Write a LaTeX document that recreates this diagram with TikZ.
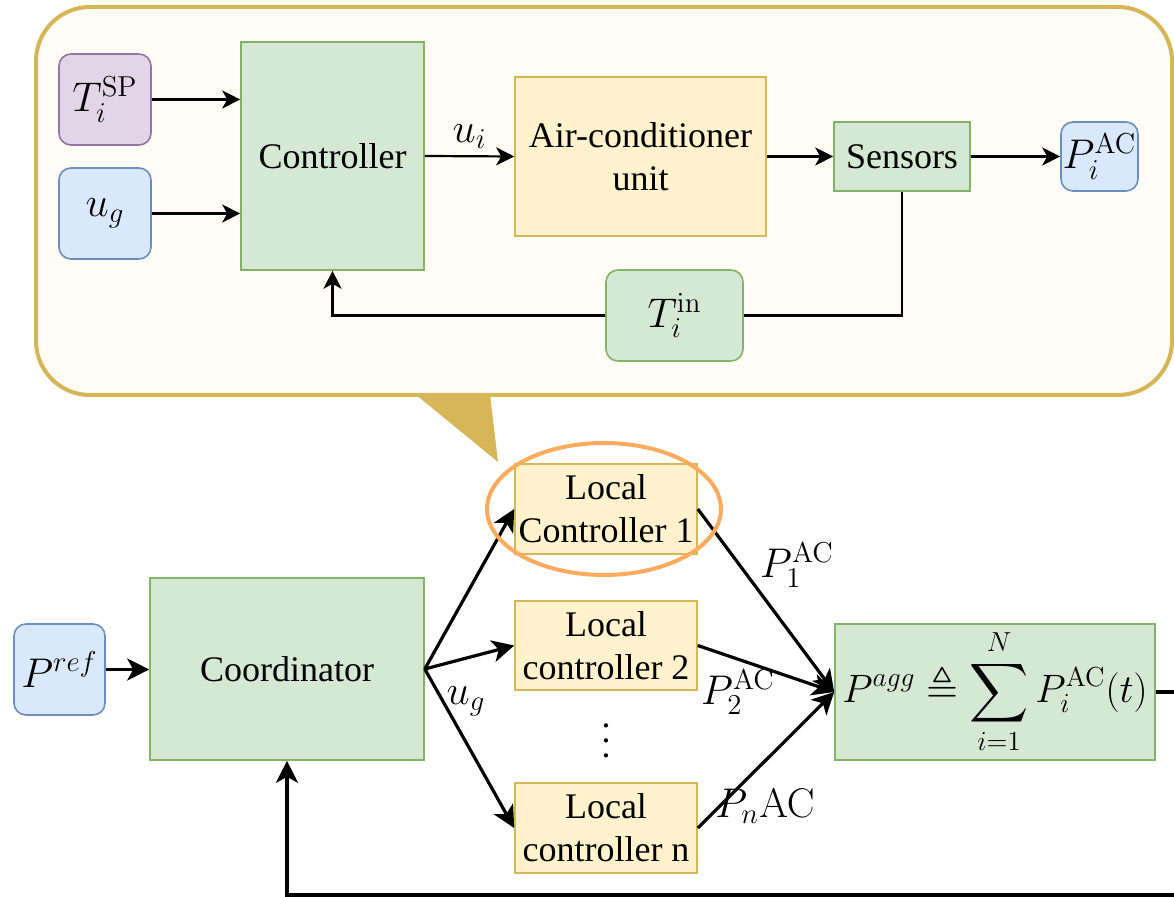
\documentclass[tikz,border=0pt]{standalone}
\usepackage[no-math]{fontspec}
\setmainfont{Liberation Serif}
\usepackage{amsmath,amssymb}
\usetikzlibrary{arrows.meta,shapes.geometric}

\definecolor{grnfill}{HTML}{D5E8D4}
\definecolor{grnline}{HTML}{82B366}
\definecolor{ylwfill}{HTML}{FFF2CC}
\definecolor{ylwline}{HTML}{D6B656}
\definecolor{bluefill}{HTML}{DAE8FC}
\definecolor{blueline}{HTML}{6C8EBF}
\definecolor{purfill}{HTML}{E1D5E7}
\definecolor{purline}{HTML}{9673A6}
\definecolor{cream}{HTML}{FFFCF5}
\definecolor{callgold}{HTML}{D6B656}
\definecolor{hilite}{HTML}{FFAB5E}

\begin{document}
\begin{tikzpicture}[x=0.5pt,y=-0.5pt,
  font=\fontsize{18}{21.5}\selectfont,
  mth/.style={font=\fontsize{21.5}{25}\selectfont},
  blk/.style={draw, inner sep=0pt, line width=0.8pt, align=center},
  grn/.style={blk, draw=grnline, fill=grnfill},
  ylw/.style={blk, draw=ylwline, fill=ylwfill},
  blu/.style={blk, draw=blueline, fill=bluefill, rounded corners=6pt},
  pur/.style={blk, draw=purline, fill=purfill, rounded corners=6pt},
  thin/.style={line width=1.1pt},
  thinarr/.style={thin, -{Stealth[length=9pt,width=9pt,inset=2.5pt]}},
  thick/.style={line width=1.6pt},
  thickarr/.style={thick, -{Stealth[length=11pt,width=11pt,inset=3pt]}},
]
\useasboundingbox (0,0) rectangle (1174,897);

% ---- zoomed-in view of a local controller ----
\node[draw=callgold, fill=cream, line width=2pt, rounded corners=27pt,
      minimum width=568pt, minimum height=194pt, inner sep=0pt] (zoomview) at (604,201) {};
\coordinate (tl) at (415,394);
\coordinate (tr) at (490,394);
\coordinate (tip) at (498,462);
\fill[callgold] (tl) -- (tr) -- (tip) -- cycle;

\node[pur, mth, minimum width=46pt, minimum height=45.5pt] (tsp) at (105,99.5) {$T_i^{\mathrm{SP}}$};
\node[blu, mth, minimum width=46pt, minimum height=45.5pt] (ugin) at (105,213.5) {$u_g$};
\node[grn, minimum width=91.5pt, minimum height=114pt] (ctrl) at (332.5,156) {Controller};
\node[ylw, minimum width=125.5pt, minimum height=79.5pt] (acu) at (640.5,156.5) {Air-conditioner\\unit};
\node[grn, minimum width=68pt, minimum height=34.5pt] (sens) at (902,156.5) {Sensors};
\node[blu, mth, minimum width=38.5pt, minimum height=34.5pt] (pac) at (1099.5,156.5) {$P_i^{\mathrm{AC}}$};
\node[grn, mth, rounded corners=6pt, minimum width=68.5pt, minimum height=45.5pt] (tin) at (674.5,315.5) {$T_i^{\mathrm{in}}$};

\draw[thinarr] (tsp.east) -- (tsp.east -| ctrl.west);
\draw[thinarr] (ugin.east) -- (ugin.east -| ctrl.west);
\draw[thinarr] (ctrl.east) -- node[mth, above=0pt] (uilab) {$u_i$} (acu.west);
\draw[thinarr] (acu.east) -- (sens.west);
\draw[thinarr] (sens.east) -- (pac.west);
\draw[thin] (sens.south) |- (tin.east);
\draw[thinarr] (tin.west) -| (ctrl.south);

% ---- aggregate control loop ----
\node[blu, mth, minimum width=45.5pt, minimum height=45.5pt] (pref) at (59.5,669.5) {$P^{ref}$};
\node[grn, minimum width=137pt, minimum height=91pt] (coord) at (287,669) {Coordinator};
\node[ylw, minimum width=91pt, minimum height=45pt] (lc1) at (606,509) {Local\\Controller 1};
\node[ylw, minimum width=91pt, minimum height=44.5pt] (lc2) at (606,645.5) {Local\\controller 2};
\node[ylw, minimum width=91pt, minimum height=45pt] (lcn) at (606,828) {Local\\controller n};
\node[inner sep=0pt] (dots) at (606,741)
  {\vbox{\baselineskip=7.5pt\lineskiplimit=0pt\hbox{.}\hbox{.}\hbox{.}}};
\node[grn, mth, minimum width=160pt, minimum height=68pt] (agg) at (995,692)
  {\scalebox{0.955}{$\displaystyle P^{agg}\triangleq\sum_{i=1}^{N}P_i^{\mathrm{AC}}(t)$}};

\draw[thickarr] (pref.east) -- (pref.east -| coord.west);
\draw[thickarr] (coord.east) -- (lc1.west);
\draw[thickarr] (coord.east) -- (lc2.west);
\draw[thickarr] (coord.east) -- (lcn.west);
\node[mth] (uglab) at (466,701) {$u_g$};

\draw[thickarr] (lc1.east) -- (agg.west);
\draw[thickarr] (lc2.east) -- (agg.west);
\draw[thickarr] (lcn.east) -- (agg.west);
\node[mth] (p1lab) at (797,565) {$P_1^{\mathrm{AC}}$};
\node[mth] (p2lab) at (738,692) {$P_2^{\mathrm{AC}}$};
\node[mth] (pnlab) at (765,806) {$P_n\mathrm{AC}$};

\coordinate (outr) at (1182,692);
\coordinate (outb) at (1182,895);
\draw[thick] (agg.east) -- (outr) -- (outb);
\draw[thickarr] (outb) -| (coord.south);

% highlight ring around the first local controller
\node[ellipse, draw=hilite, line width=2pt, minimum width=117pt, minimum height=66pt] (ring) at (604,509) {};
\end{tikzpicture}
\end{document}
